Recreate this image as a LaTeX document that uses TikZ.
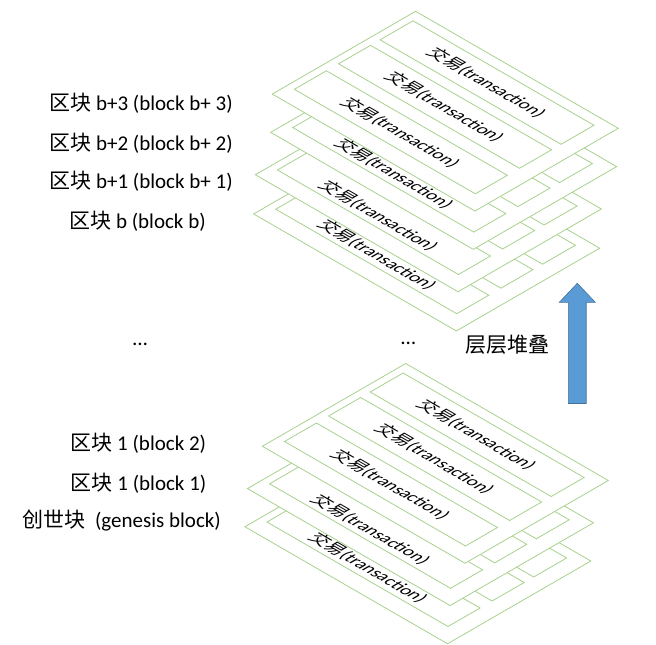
\documentclass[tikz,border=0pt]{standalone}
\usepackage{fontspec}
\setmainfont{Carlito}
\newfontfamily\cjk{Noto Sans CJK SC}
\definecolor{lgreen}{HTML}{A9D18E}
\definecolor{arrowblue}{HTML}{5B9BD5}
\definecolor{arrowedge}{HTML}{41719C}
\newcommand\txlabel{{\cjk 交易}(transaction)}
% #1 name, #2 x, #3 y (image coords of back corner), #4 = 1 if all three texts visible
\newcommand\txlayer[4]{%
 \begin{scope}[shift={(#2,-#3)}, cm={0.866,-0.5,0.866,0.5,(0,0)}]
  \draw[layerbox] (0,0) -- (234,0) -- (234,-165.5) -- (0,-165.5) -- cycle;
  \draw[rowbox] (8,-11) -- (217,-11) -- (217,-49) -- (8,-49) -- cycle;
  \draw[rowbox] (8,-60) -- (217,-60) -- (217,-97) -- (8,-97) -- cycle;
  \draw[rowbox] (8,-111) -- (217,-111) -- (217,-148) -- (8,-148) -- cycle;
  \ifnum#4=1
   \node[txtext] (#1a) at (112.5,-30) {\txlabel};
   \node[txtext] (#1b) at (112.5,-78.5) {\txlabel};
   \node[txtext] (#1c) at (112.5,-129.5) {\txlabel};
  \else
   \node[txtext] (#1c) at (112.5,-135) {\txlabel};
  \fi
 \end{scope}}
\begin{document}
\begin{tikzpicture}[x=1pt,y=1pt,
  layerbox/.style={draw=lgreen, fill=white, line width=0.8pt, line join=miter},
  rowbox/.style={draw=lgreen, line width=0.8pt},
  txtext/.style={transform shape, font=\fontsize{18}{20}\selectfont, inner sep=0pt},
  blocklabel/.style={font=\fontsize{21}{24}\selectfont, inner sep=0pt}
]
\useasboundingbox (0,0) rectangle (656,-645);

% top stack
\txlayer{lb}{397}{131.2}{0}
\txlayer{lbone}{398.7}{92}{0}
\txlayer{lbtwo}{414}{49.6}{0}
\txlayer{lbthree}{415.6}{11.3}{1}
% bottom stack
\txlayer{lgen}{388.2}{444}{0}
\txlayer{lone}{390.8}{405.8}{0}
\txlayer{ltwo}{405.7}{363.5}{1}

% labels
\node[blocklabel] (tbthree) at (141,-103.3) {{\cjk 区块} b+3 (block b+ 3)};
\node[blocklabel] (tbtwo) at (141,-143.3) {{\cjk 区块} b+2 (block b+ 2)};
\node[blocklabel] (tbone) at (141,-181.7) {{\cjk 区块} b+1 (block b+ 1)};
\node[blocklabel] (tb) at (137.5,-221.7) {{\cjk 区块} b (block b)};
\node[blocklabel] (ttwo) at (138.3,-443.3) {{\cjk 区块} 1 (block 2)};
\node[blocklabel] (tone) at (138.5,-483.3) {{\cjk 区块} 1 (block 1)};
\node[blocklabel] (tgen) at (121.7,-520) {{\cjk 创世块}\ \ (genesis block)};

\node[blocklabel, anchor=base] (dotsl) at (140,-345.5) {…};
\node[blocklabel, anchor=base] (dotsr) at (408.3,-344) {…};

\node[blocklabel] (stack) at (507.5,-345) {\cjk 层层堆叠};

% arrow
\draw[fill=arrowblue, draw=arrowedge, line width=0.6pt]
  (577.3,-283.3) -- (595.3,-302.3) -- (586.2,-302.3) -- (586.2,-403.5)
  -- (568.3,-403.5) -- (568.3,-302.3) -- (559.3,-302.3) -- cycle;
\end{tikzpicture}
\end{document}
